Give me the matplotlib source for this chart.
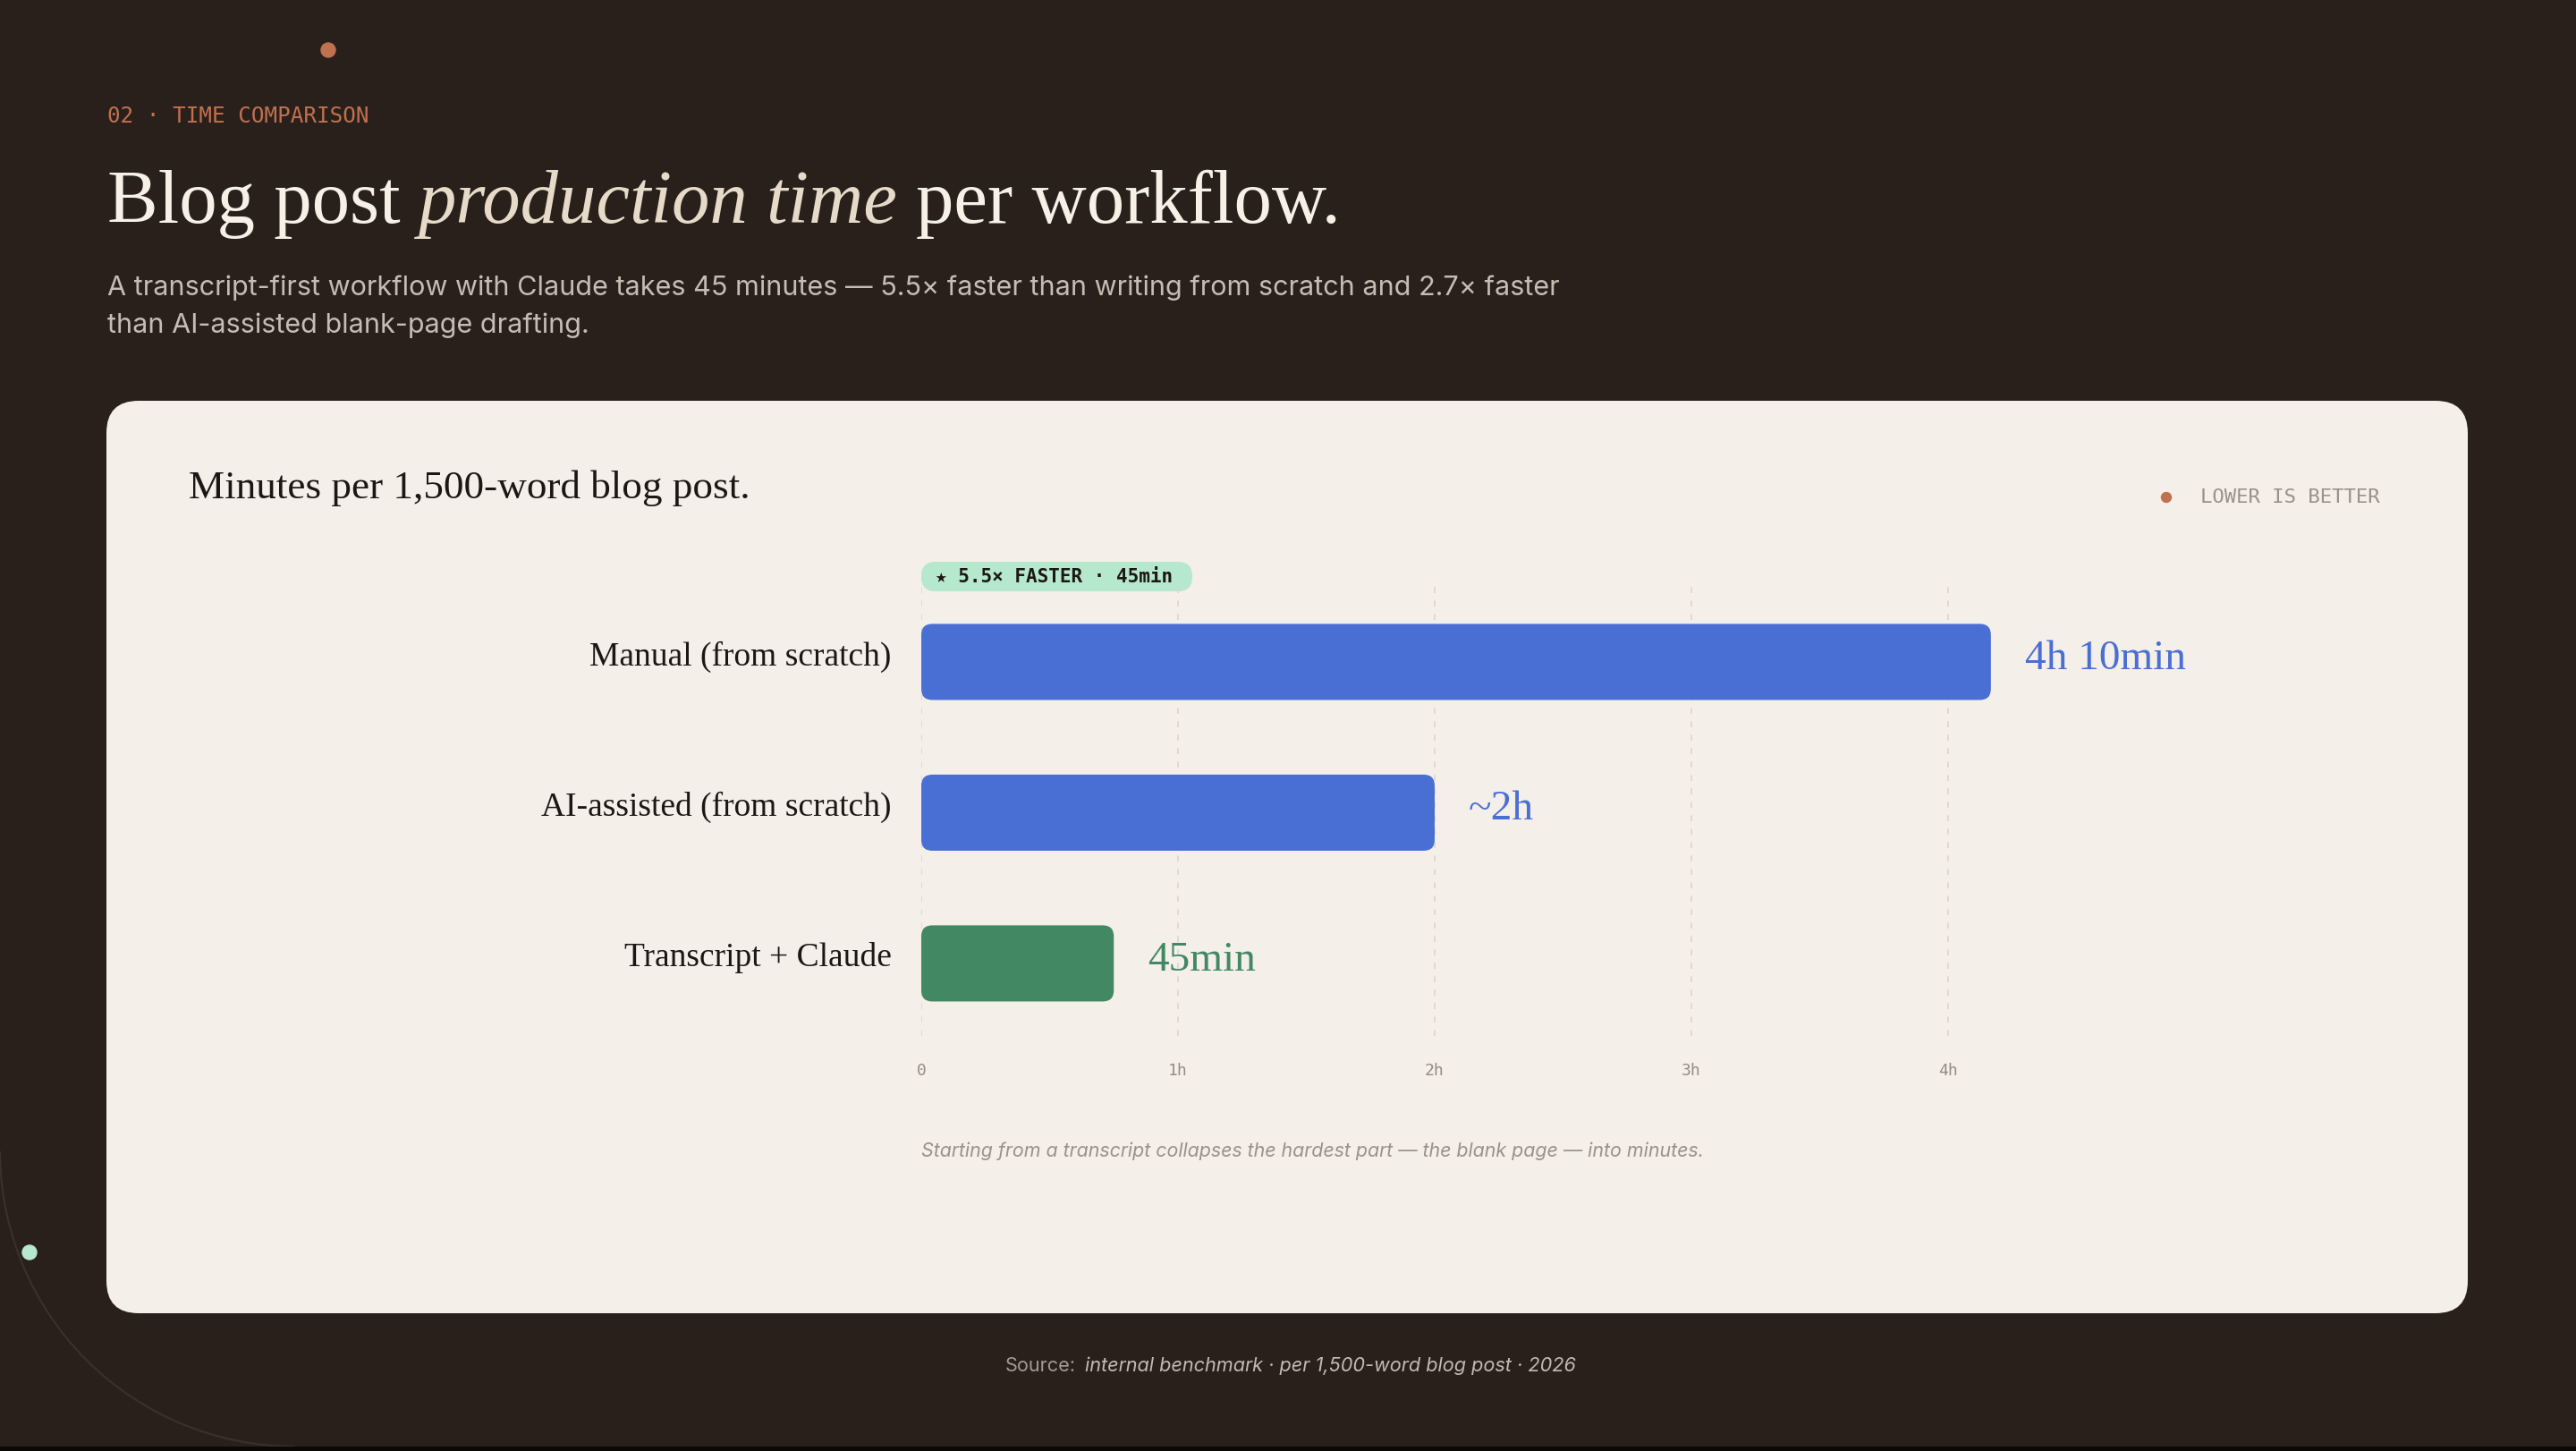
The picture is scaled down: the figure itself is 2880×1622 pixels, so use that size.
import matplotlib
matplotlib.use("Agg")
import matplotlib.pyplot as plt
from matplotlib.patches import FancyBboxPatch, Circle, Rectangle, Arc

# data
categories = ["Manual (from scratch)", "AI-assisted (from scratch)", "Transcript + Claude"]
minutes = [250, 120, 45]
value_labels = ["4h 10min", "~2h", "45min"]
tick_minutes = [0, 60, 120, 180, 240]
tick_labels = ["0", "1h", "2h", "3h", "4h"]

BG = "#29201c"
CARD = "#f4efe8"
BLUE = "#4a6fd4"
GREEN = "#428862"
ORANGE = "#c0714f"
MINT = "#b5e8cc"
INK = "#1c1714"
bar_colors = [BLUE, BLUE, GREEN]

SERIF = "Liberation Serif"
SANS = "Inter"
MONO = ["DejaVu Sans Mono", "DejaVu Sans"]

W, H = 2880, 1622
fig = plt.figure(figsize=(W / 100, H / 100), dpi=100, facecolor=BG)

# full-figure layer in pixel coordinates
bg = fig.add_axes([0, 0, 1, 1])
bg.set_xlim(0, W)
bg.set_ylim(H, 0)
bg.axis("off")

# decorations
bg.add_patch(Arc((330, 1287), 660, 660, theta1=90, theta2=180, color="#3b312b", lw=1.5))
bg.add_patch(Circle((367, 56), 8, color=ORANGE))
bg.add_patch(Circle((33, 1400), 8, color=MINT, zorder=3))
bg.add_patch(Rectangle((0, 1617), W, 5, color="#0b0908", lw=0))

# card
bg.add_patch(FancyBboxPatch((119, 448), 2640, 1020,
                            boxstyle="round,pad=0,rounding_size=36",
                            fc=CARD, ec="none", zorder=2))

r = fig.canvas.get_renderer()


def put(x, y, s, **kw):
    """Draw text on a baseline and return where it ends."""
    t = bg.text(x, y, s, va="baseline", ha="left", **kw)
    return t.get_window_extent(r).x1


# header
bg.text(120, 130, "02 · TIME COMPARISON", family=MONO, fontsize=17.5,
        color=ORANGE, va="center", ha="left")

gap = 20
title_kw = dict(fontsize=61, family=SERIF)
x = put(120, 249, "Blog post", color="#f6f0e7", **title_kw)
x = put(x + gap, 249, "production time", color="#e6dbc9", style="italic", **title_kw)
put(x + gap, 249, "per workflow.", color="#f6f0e7", **title_kw)

bg.text(120, 372,
        "A transcript-first workflow with Claude takes 45 minutes — 5.5× faster than "
        "writing from scratch and 2.7× faster\nthan AI-assisted blank-page drafting.",
        family=SANS, fontsize=22, color="#c5bcb3", va="baseline", ha="left",
        linespacing=1.6)

# card header
bg.text(211, 557, "Minutes per 1,500-word blog post.", family=SERIF, fontsize=32.5,
        color=INK, va="baseline", ha="left", zorder=3)
bg.add_patch(Circle((2422, 556), 5.5, color=ORANGE, zorder=3))
bg.text(2460, 556, "LOWER IS BETTER", family=MONO, fontsize=16, color="#9a918a",
        va="center", ha="left", zorder=3)

# badge
bg.add_patch(FancyBboxPatch((1030, 628), 303, 33,
                            boxstyle="round,pad=0,rounding_size=16",
                            fc=MINT, ec="none", zorder=3))
bg.text(1046, 645, "★ 5.5× FASTER · 45min", family=MONO, fontsize=15,
        weight="bold", color=INK, va="center", ha="left", zorder=4)

# chart axes: 1 hour = 287 px, one row = 168.5 px
px_per_min = 287 / 60
row_px = 168.5
xmax = 300
y_top, y_bot = -0.51, 2.48
ax_left, ax_top = 1030, 654
ax_w = xmax * px_per_min
ax_h = (y_bot - y_top) * row_px
ax = fig.add_axes([ax_left / W, 1 - (ax_top + ax_h) / H, ax_w / W, ax_h / H])
ax.set_zorder(5)
ax.patch.set_visible(False)
ax.set_xlim(0, xmax)
ax.set_ylim(y_bot, y_top)
for s in ax.spines.values():
    s.set_visible(False)

for t in tick_minutes:
    ax.axvline(t, color="#dcd5cc", lw=1.2, ls=(0, (4, 5)), zorder=0)

bar_h = 0.505
aspect = px_per_min / row_px
for i, (v, c) in enumerate(zip(minutes, bar_colors)):
    ax.add_patch(FancyBboxPatch((0, i - bar_h / 2), v, bar_h,
                                boxstyle="round,pad=0,rounding_size=2.6",
                                mutation_aspect=aspect, fc=c, ec="none", zorder=2))
    ax.text(v + 38 / px_per_min, i - 0.02, value_labels[i], family=SERIF, fontsize=34,
            color=c, va="center", ha="left")

ax.set_xticks(tick_minutes)
ax.set_xticklabels(tick_labels, family=MONO, fontsize=13, color="#958c84")
# category labels sit a little above the bar centre
ax.set_yticks([i - 0.06 for i in range(len(categories))])
ax.set_yticklabels(categories, family=SERIF, fontsize=27, color=INK)
ax.tick_params(axis="x", length=0, pad=22)
ax.tick_params(axis="y", length=0, pad=24)

# notes
bg.text(1030, 1293, "Starting from a transcript collapses the hardest part — the blank page — into minutes.",
        family=SANS, style="italic", fontsize=15.4, color="#9a918a",
        va="baseline", ha="left", zorder=3)

x = put(1124, 1533, "Source:", family=SANS, fontsize=15.6, color="#a39a92")
put(x + 10, 1533, "internal benchmark · per 1,500-word blog post · 2026",
    family=SANS, fontsize=15.6, style="italic", color="#c3b9b0")

fig.savefig("out.png", dpi=100, facecolor=BG)
